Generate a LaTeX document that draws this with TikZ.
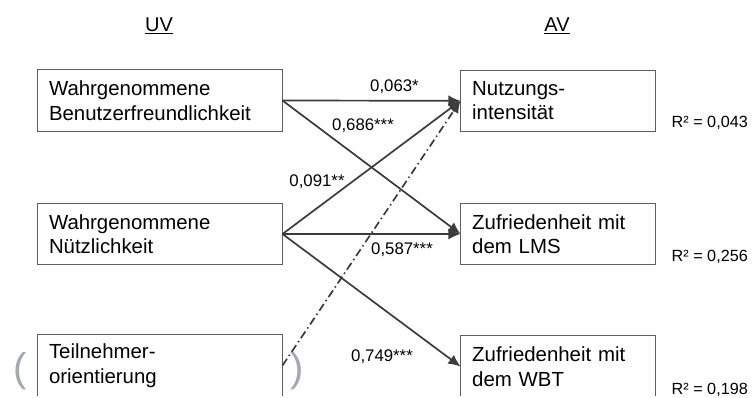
\documentclass[tikz,border=0pt]{standalone}
\usepackage{fontspec}
\setmainfont{Liberation Sans}
\usetikzlibrary{arrows.meta}
\definecolor{boxgray}{RGB}{95,95,95}
\definecolor{arrgray}{RGB}{60,60,60}
\definecolor{pargray}{RGB}{165,168,178}
\tikzset{
  varbox/.style={draw=boxgray, line width=1pt, minimum height=61.5pt, align=left,
    inner sep=0pt, font=\fontsize{20.4}{24.5}\selectfont, text=black},
  leftbox/.style={varbox, minimum width=245pt, text width=221pt},
  rightbox/.style={varbox, minimum width=194.5pt, text width=172pt},
  path/.style={draw=arrgray, line width=1.7pt, -{Latex[length=12pt,width=11pt]}},
  dashdotpath/.style={path, dash pattern=on 8pt off 3.5pt on 1.5pt off 3.5pt},
  coef/.style={font=\fontsize{16.8}{18}\selectfont, text=black, inner sep=0pt},
  rsq/.style={font=\fontsize{16.2}{18}\selectfont, text=black, inner sep=0pt, anchor=west},
  head/.style={font=\fontsize{20}{22}\selectfont, text=black, inner sep=0pt},
  paren/.style={font=\fontsize{40}{42}\selectfont, text=pargray, inner sep=0pt}
}
\begin{document}
\begin{tikzpicture}[x=1pt,y=-1pt]
\path[use as bounding box] (0,0) rectangle (753,397);
\clip (0,0) rectangle (753,395.2);
\fill[white] (0,0) rectangle (753,397);

\node[head] (uv) at (159,26) {\underline{UV}};
\node[head] (av) at (557,26) {\underline{AV}};

\node[leftbox] (a1) at (159.5,100.5) {Wahrgenommene\\Benutzerfreundlichkeit};
\node[leftbox] (a2) at (159.5,234) {Wahrgenommene\\Nützlichkeit};
\node[leftbox] (a3) at (159.5,365.5) {Teilnehmer-\\orientierung};

\node[rightbox] (b1) at (558.2,100.8) {Nutzungs-\\intensität};
\node[rightbox] (b2) at (558.2,234) {Zufriedenheit mit\\dem LMS};
\node[rightbox] (b3) at (558.2,366.5) {Zufriedenheit mit\\dem WBT};

\node[paren] (pl) at (20,371) {(};
\node[paren] (pr) at (297.5,371) {)};

\path[dashdotpath] (a3.east) -- (b1.west);
\path[path] (a1.east) -- (b1.west);
\path[path] (a1.east) -- (b2.west);
\path[path] (a2.east) -- (b1.west);
\path[path] (a2.east) -- (b2.west);
\path[path] (a2.east) -- (b3.west);

\node[coef] (c1) at (394.5,86.5) {0,063*};
\node[coef] (c2) at (363,126) {0,686***};
\node[coef] (c3) at (317,182) {0,091**};
\node[coef] (c4) at (402,250) {0,587***};
\node[coef] (c5) at (382,356.5) {0,749***};

\node[rsq] (r1) at (671.5,123) {R² = 0,043};
\node[rsq] (r2) at (671.5,257) {R² = 0,256};
\node[rsq] (r3) at (671.5,390) {R² = 0,198};
\end{tikzpicture}
\end{document}
